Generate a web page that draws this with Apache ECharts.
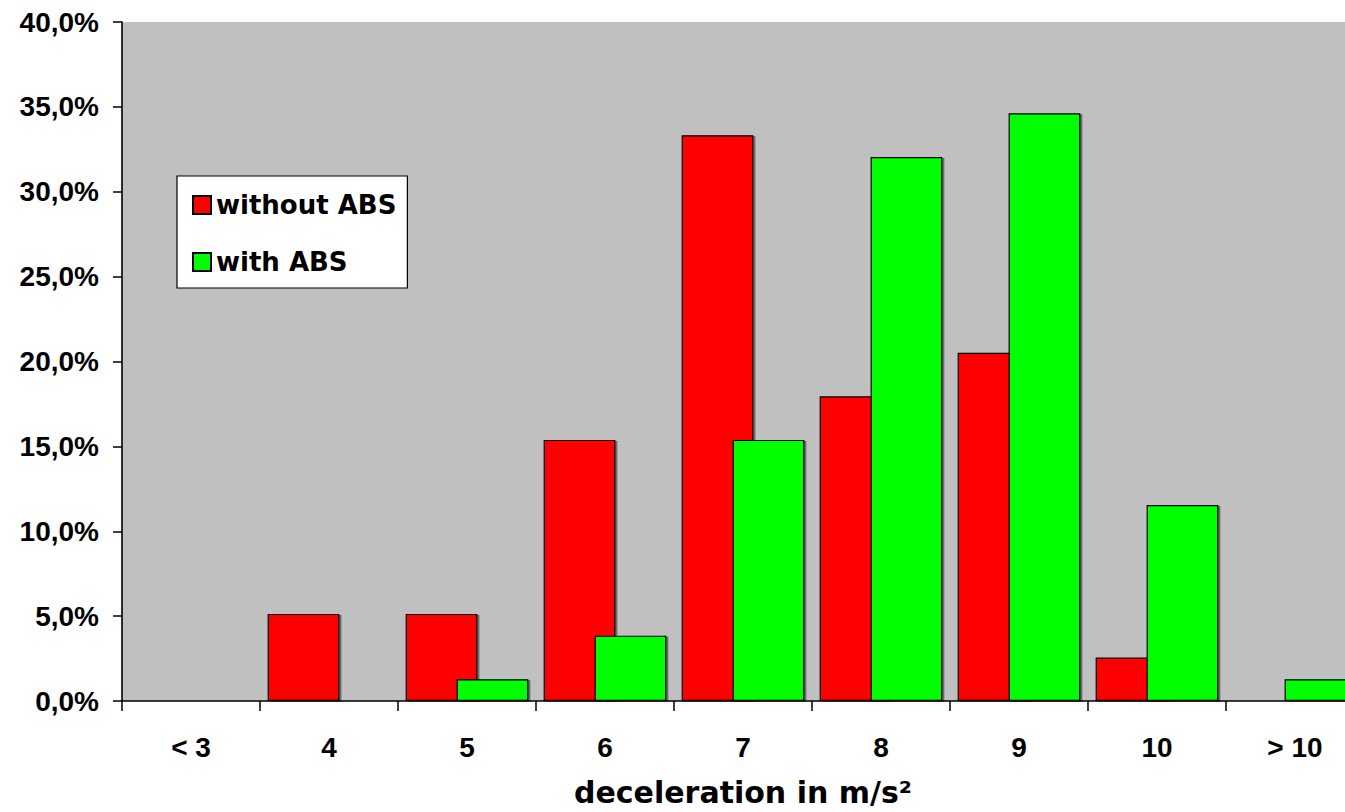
<!DOCTYPE html>
<html>
<head>
<meta charset="utf-8">
<script src="https://cdn.jsdelivr.net/npm/echarts@6/dist/echarts.min.js"></script>
<style>
  html, body { margin: 0; padding: 0; background: #fff; overflow: hidden; width: 1345px; height: 812px; }
  #chart { width: 1366px; height: 812px; }
</style>
</head>
<body>
<div id="chart"></div>
<script>
// ---- data ----
const categories = ['< 3', '4', '5', '6', '7', '8', '9', '10', '> 10'];
const withoutABS = [0, 5.13, 5.13, 15.38, 33.33, 17.95, 20.51, 2.56, 0];
const withABS    = [0, 0, 1.28, 3.85, 15.38, 32.05, 34.62, 11.54, 1.28];
const yTickLabels = ['0,0%', '5,0%', '10,0%', '15,0%', '20,0%', '25,0%', '30,0%', '35,0%', '40,0%'];
const seriesNames = ['without ABS', 'with ABS'];
const xAxisTitle = 'deceleration in m/s²';

const tickFont = 'Liberation Sans, Arial, sans-serif';
const wideFont = 'DejaVu Sans, sans-serif';

const chart = echarts.init(document.getElementById('chart'), null, { renderer: 'svg' });

const barStyle = (color) => ({
  color: color,
  borderColor: '#000',
  borderWidth: 1.2,
  shadowColor: 'rgba(0,0,0,0.45)',
  shadowOffsetX: 2,
  shadowOffsetY: 1,
  shadowBlur: 0
});

chart.setOption({
  animation: false,
  backgroundColor: '#ffffff',
  grid: {
    left: 122,
    right: 2,
    top: 22,
    bottom: 103,
    show: true,
    backgroundColor: '#c0c0c0',
    borderWidth: 0
  },
  legend: {
    orient: 'vertical',
    left: 177,
    top: 176,
    padding: [16, 11, 13, 15],
    itemGap: 31,
    itemWidth: 18,
    itemHeight: 18,
    itemTextGap: 9,
    icon: 'rect',
    backgroundColor: '#ffffff',
    borderColor: '#000',
    borderWidth: 1.2,
    textStyle: {
      fontFamily: wideFont,
      fontWeight: 'bold',
      fontSize: 26,
      color: '#000'
    },
    data: seriesNames
  },
  xAxis: {
    type: 'category',
    data: categories,
    boundaryGap: true,
    name: xAxisTitle,
    nameLocation: 'middle',
    nameGap: 76,
    nameTextStyle: {
      fontFamily: wideFont,
      fontWeight: 'bold',
      fontSize: 30,
      color: '#000'
    },
    axisLine: { show: true, lineStyle: { color: '#000', width: 1.6 } },
    axisTick: { show: true, length: 10, lineStyle: { color: '#000', width: 1.5 } },
    axisLabel: {
      margin: 32,
      fontFamily: tickFont,
      fontWeight: 'bold',
      fontSize: 28,
      color: '#000',
      interval: 0
    },
    splitLine: { show: false }
  },
  yAxis: {
    type: 'value',
    min: 0,
    max: 40,
    interval: 5,
    axisLine: { show: true, lineStyle: { color: '#000', width: 1.6 } },
    axisTick: { show: true, length: 9, lineStyle: { color: '#000', width: 1.5 } },
    axisLabel: {
      margin: 23,
      fontFamily: tickFont,
      fontWeight: 'bold',
      fontSize: 28,
      color: '#000',
      formatter: (v) => yTickLabels[Math.round(v / 5)]
    },
    splitLine: {
      show: true,
      lineStyle: {
        color: '#000',
        width: 1.2,
        shadowColor: 'rgba(0,0,0,0.35)',
        shadowOffsetY: 1.5,
        shadowBlur: 0
      }
    }
  },
  series: [
    {
      name: seriesNames[0],
      type: 'bar',
      data: withoutABS,
      barWidth: '52%',
      barGap: '-29%',
      itemStyle: barStyle('#ff0000')
    },
    {
      name: seriesNames[1],
      type: 'bar',
      data: withABS,
      barWidth: '52%',
      barGap: '-29%',
      itemStyle: barStyle('#00ff00')
    }
  ]
});
</script>
</body>
</html>
